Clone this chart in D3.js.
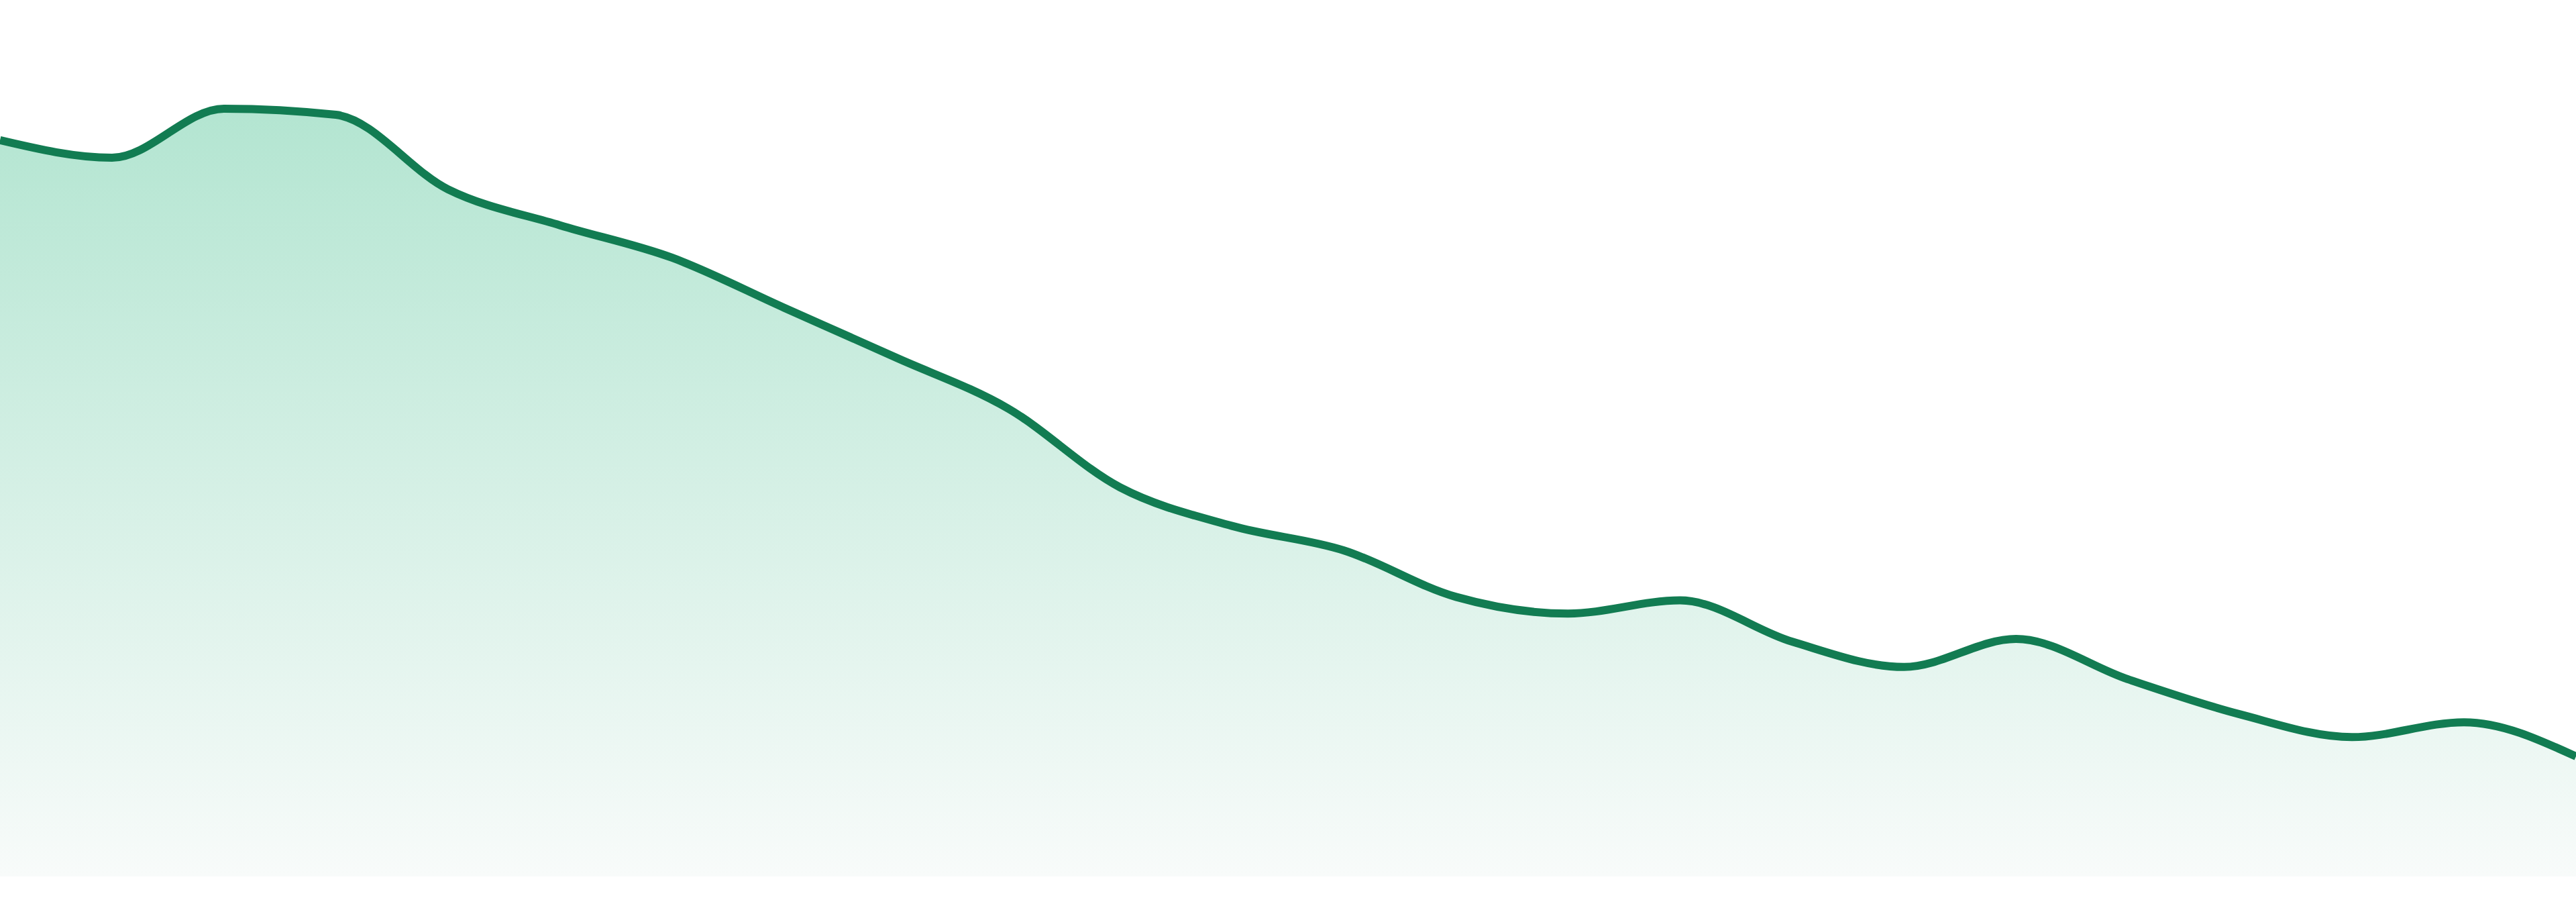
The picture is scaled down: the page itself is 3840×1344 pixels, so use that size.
<!DOCTYPE html>
<html>
<head>
<meta charset="utf-8">
<script src="https://cdn.jsdelivr.net/npm/d3@7.9.0/dist/d3.min.js"></script>
<style>
  html, body { margin: 0; padding: 0; background: #fff; }
  svg { display: block; }
</style>
</head>
<body>
<svg id="chart" width="3840" height="1344"></svg>
<script>
// one reading per period, evenly spaced across the full width
const periods = d3.range(24);
const values = [
  84.0, 82.0, 87.6, 86.9, 78.4, 74.3, 70.6, 64.9,
  59.2, 53.4, 44.4, 40.0, 37.2, 31.9, 30.0, 31.5,
  26.8, 23.9, 27.1, 22.5, 18.5, 15.9, 17.6, 13.7
];

const width = 3840;
const height = 1344;
const baseline = 1306;

const svg = d3.select('#chart');

const x = d3.scaleLinear()
  .domain(d3.extent(periods))
  .range([0, width]);

const y = d3.scaleLinear()
  .domain([0, 100])
  .range([baseline, 0]);

const data = periods.map((p, i) => ({ p, v: values[i] }));

const defs = svg.append('defs');
const grad = defs.append('linearGradient')
  .attr('id', 'fillGrad')
  .attr('gradientUnits', 'userSpaceOnUse')
  .attr('x1', 0).attr('x2', 0)
  .attr('y1', y(d3.max(values)))
  .attr('y2', baseline);
grad.append('stop').attr('offset', '0%').attr('stop-color', '#b3e5d1');
grad.append('stop').attr('offset', '100%').attr('stop-color', '#f8fbfa');

const area = d3.area()
  .x(d => x(d.p))
  .y0(baseline)
  .y1(d => y(d.v))
  .curve(d3.curveMonotoneX);

const line = d3.line()
  .x(d => x(d.p))
  .y(d => y(d.v))
  .curve(d3.curveMonotoneX);

svg.append('path')
  .datum(data)
  .attr('d', area)
  .attr('fill', 'url(#fillGrad)');

svg.append('path')
  .datum(data)
  .attr('d', line)
  .attr('fill', 'none')
  .attr('stroke', '#127c52')
  .attr('stroke-width', 12)
  .attr('stroke-linejoin', 'round');
</script>
</body>
</html>
